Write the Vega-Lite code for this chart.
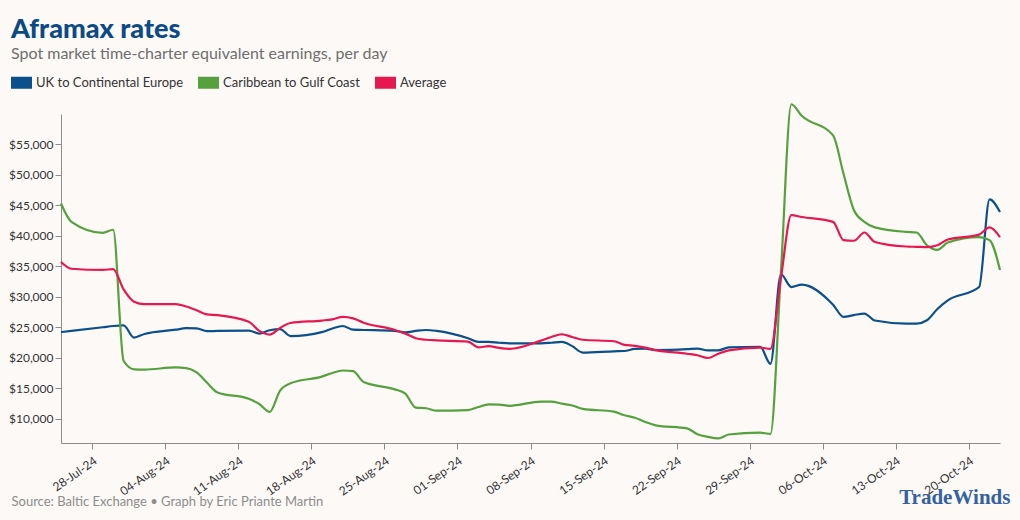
{
  "$schema": "https://vega.github.io/schema/vega-lite/v6.json",
  "width": 939,
  "height": 329,
  "autosize": {"type": "none"},
  "padding": {"left": 61, "top": 114, "right": 20, "bottom": 77},
  "background": "#fdf9f7",
  "config": {
    "font": "Lato",
    "view": {"stroke": null},
    "axis": {
      "domainColor": "#8c8c8c",
      "tickColor": "#8c8c8c",
      "grid": false,
      "labelColor": "#333333",
      "labelFont": "Lato",
      "labelFontSize": 12,
      "tickSize": 6,
      "labelOverlap": false
    }
  },
  "title": {
    "text": "Aframax rates",
    "subtitle": "Spot market time-charter equivalent earnings, per day",
    "anchor": "start",
    "frame": "group",
    "dx": -50,
    "offset": 3,
    "font": "Lato",
    "fontSize": 27,
    "fontWeight": 900,
    "color": "#0c4a85",
    "subtitleFont": "Lato",
    "subtitleFontSize": 16,
    "subtitleColor": "#6e6e6e",
    "subtitlePadding": 2
  },
  "layer": [
    {
      "data": {
        "values": [
          {"date": "2024-07-25", "uk": 24200, "carib": 45300, "avg": 35700},
          {"date": "2024-07-26", "uk": 24400, "carib": 42300, "avg": 34600},
          {"date": "2024-07-29", "uk": 25000, "carib": 40500, "avg": 34400},
          {"date": "2024-07-30", "uk": 25200, "carib": 41000, "avg": 34550},
          {"date": "2024-07-31", "uk": 25300, "carib": 19500, "avg": 31200},
          {"date": "2024-08-01", "uk": 23300, "carib": 18100, "avg": 29200},
          {"date": "2024-08-02", "uk": 23900, "carib": 18050, "avg": 28800},
          {"date": "2024-08-05", "uk": 24600, "carib": 18400, "avg": 28800},
          {"date": "2024-08-06", "uk": 24850, "carib": 18300, "avg": 28400},
          {"date": "2024-08-07", "uk": 24800, "carib": 17600, "avg": 27800},
          {"date": "2024-08-08", "uk": 24350, "carib": 15900, "avg": 27100},
          {"date": "2024-08-09", "uk": 24400, "carib": 14300, "avg": 27000},
          {"date": "2024-08-12", "uk": 24450, "carib": 13250, "avg": 25900},
          {"date": "2024-08-13", "uk": 23950, "carib": 12400, "avg": 24400},
          {"date": "2024-08-14", "uk": 24500, "carib": 11100, "avg": 23800},
          {"date": "2024-08-15", "uk": 24700, "carib": 14600, "avg": 24900},
          {"date": "2024-08-16", "uk": 23550, "carib": 15800, "avg": 25700},
          {"date": "2024-08-19", "uk": 24200, "carib": 16900, "avg": 26100},
          {"date": "2024-08-20", "uk": 24800, "carib": 17500, "avg": 26300},
          {"date": "2024-08-21", "uk": 25200, "carib": 17900, "avg": 26700},
          {"date": "2024-08-22", "uk": 24600, "carib": 17800, "avg": 26450},
          {"date": "2024-08-23", "uk": 24550, "carib": 16000, "avg": 25750},
          {"date": "2024-08-26", "uk": 24400, "carib": 14800, "avg": 24550},
          {"date": "2024-08-27", "uk": 24150, "carib": 14100, "avg": 23950},
          {"date": "2024-08-28", "uk": 24400, "carib": 11800, "avg": 23200},
          {"date": "2024-08-29", "uk": 24550, "carib": 11700, "avg": 22950},
          {"date": "2024-08-30", "uk": 24400, "carib": 11300, "avg": 22850},
          {"date": "2024-09-02", "uk": 23200, "carib": 11400, "avg": 22650},
          {"date": "2024-09-03", "uk": 22600, "carib": 11900, "avg": 21700},
          {"date": "2024-09-04", "uk": 22600, "carib": 12350, "avg": 21900},
          {"date": "2024-09-05", "uk": 22450, "carib": 12300, "avg": 21600},
          {"date": "2024-09-06", "uk": 22350, "carib": 12100, "avg": 21450},
          {"date": "2024-09-09", "uk": 22350, "carib": 12800, "avg": 22800},
          {"date": "2024-09-10", "uk": 22450, "carib": 12800, "avg": 23400},
          {"date": "2024-09-11", "uk": 22600, "carib": 12450, "avg": 23850},
          {"date": "2024-09-12", "uk": 21900, "carib": 12150, "avg": 23400},
          {"date": "2024-09-13", "uk": 20850, "carib": 11600, "avg": 22950},
          {"date": "2024-09-16", "uk": 21050, "carib": 11150, "avg": 22700},
          {"date": "2024-09-17", "uk": 21100, "carib": 10550, "avg": 22100},
          {"date": "2024-09-18", "uk": 21450, "carib": 10150, "avg": 21950},
          {"date": "2024-09-19", "uk": 21500, "carib": 9450, "avg": 21650},
          {"date": "2024-09-20", "uk": 21250, "carib": 8900, "avg": 21250},
          {"date": "2024-09-23", "uk": 21400, "carib": 8400, "avg": 20650},
          {"date": "2024-09-24", "uk": 21500, "carib": 7450, "avg": 20400},
          {"date": "2024-09-25", "uk": 21200, "carib": 7000, "avg": 19950},
          {"date": "2024-09-26", "uk": 21200, "carib": 6750, "avg": 20650},
          {"date": "2024-09-27", "uk": 21700, "carib": 7400, "avg": 21200},
          {"date": "2024-09-30", "uk": 21800, "carib": 7700, "avg": 21650},
          {"date": "2024-10-01", "uk": 19000, "carib": 7500, "avg": 21450},
          {"date": "2024-10-02", "uk": 33700, "carib": 34000, "avg": 33000},
          {"date": "2024-10-03", "uk": 31600, "carib": 61600, "avg": 43400},
          {"date": "2024-10-04", "uk": 32000, "carib": 59700, "avg": 43100},
          {"date": "2024-10-07", "uk": 28700, "carib": 56500, "avg": 42300},
          {"date": "2024-10-08", "uk": 26700, "carib": 50200, "avg": 39300},
          {"date": "2024-10-09", "uk": 27000, "carib": 44200, "avg": 39200},
          {"date": "2024-10-10", "uk": 27250, "carib": 42300, "avg": 40550},
          {"date": "2024-10-11", "uk": 26100, "carib": 41400, "avg": 39000},
          {"date": "2024-10-14", "uk": 25600, "carib": 40650, "avg": 38250},
          {"date": "2024-10-15", "uk": 25600, "carib": 40550, "avg": 38200},
          {"date": "2024-10-16", "uk": 26150, "carib": 38450, "avg": 38150},
          {"date": "2024-10-17", "uk": 28000, "carib": 37700, "avg": 38450},
          {"date": "2024-10-18", "uk": 29400, "carib": 38900, "avg": 39400},
          {"date": "2024-10-21", "uk": 31600, "carib": 39800, "avg": 40200},
          {"date": "2024-10-22", "uk": 46000, "carib": 39300, "avg": 41400},
          {"date": "2024-10-23", "uk": 43900, "carib": 34400, "avg": 39800}
        ]
      },
      "transform": [{"fold": ["uk", "carib", "avg"], "as": ["series", "value"]}],
      "mark": {"type": "line", "interpolate": "monotone", "strokeWidth": 2.2},
      "encoding": {
        "x": {
          "field": "date",
          "type": "temporal",
          "scale": {
            "type": "utc",
            "domain": [
              {"year": 2024, "month": 7, "date": 25, "utc": true},
              {"year": 2024, "month": 10, "date": 23, "utc": true}
            ]
          },
          "axis": {
            "tickCount": {"interval": "week", "step": 1},
            "format": "%d-%b-%y",
            "labelAngle": -35,
            "labelAlign": "right",
            "labelBaseline": "top",
            "labelPadding": 6,
            "labelFlush": false,
            "title": "Source: Baltic Exchange • Graph by Eric Priante Martin",
            "titleAnchor": "start",
            "titleAlign": "left",
            "titleBaseline": "alphabetic",
            "titleX": -50,
            "titleY": 62,
            "titleFont": "Lato",
            "titleFontSize": 13,
            "titleFontWeight": "normal",
            "titleColor": "#8d8d8d"
          }
        },
        "y": {
          "field": "value",
          "type": "quantitative",
          "scale": {"domain": [6000, 60000], "nice": false, "zero": false},
          "axis": {
            "values": [10000, 15000, 20000, 25000, 30000, 35000, 40000, 45000, 50000, 55000],
            "format": "$,.0f",
            "title": null,
            "labelPadding": 2
          }
        },
        "color": {
          "field": "series",
          "type": "nominal",
          "scale": {"domain": ["uk", "carib", "avg"], "range": ["#0b4f8c", "#55a13d", "#e5194f"]},
          "legend": {
            "orient": "none",
            "legendX": -56,
            "legendY": -48,
            "direction": "horizontal",
            "title": null,
            "labelExpr": "datum.label == 'uk' ? 'UK to Continental Europe' : datum.label == 'carib' ? 'Caribbean to Gulf Coast' : 'Average'",
            "labelFont": "Lato",
            "labelFontSize": 13,
            "labelColor": "#333333",
            "labelOffset": -2,
            "columnPadding": -10,
            "symbolType": "M-1,0L1,0",
            "symbolSize": 441,
            "symbolStrokeWidth": 12,
            "symbolOpacity": 1
          }
        }
      }
    },
    {
      "data": {"values": [{"brand": "TradeWinds"}]},
      "mark": {
        "type": "text",
        "font": "Liberation Serif",
        "fontWeight": "bold",
        "fontSize": 21,
        "color": "#3462a0",
        "align": "right",
        "baseline": "alphabetic"
      },
      "encoding": {
        "x": {"datum": {"year": 2024, "month": 10, "date": 24, "utc": true}, "type": "temporal"},
        "y": {
          "datum": -4060,
          "type": "quantitative",
          "axis": {
            "values": [10000, 15000, 20000, 25000, 30000, 35000, 40000, 45000, 50000, 55000],
            "format": "$,.0f",
            "title": null,
            "labelPadding": 2
          }
        },
        "text": {"field": "brand", "type": "nominal"}
      }
    }
  ]
}
